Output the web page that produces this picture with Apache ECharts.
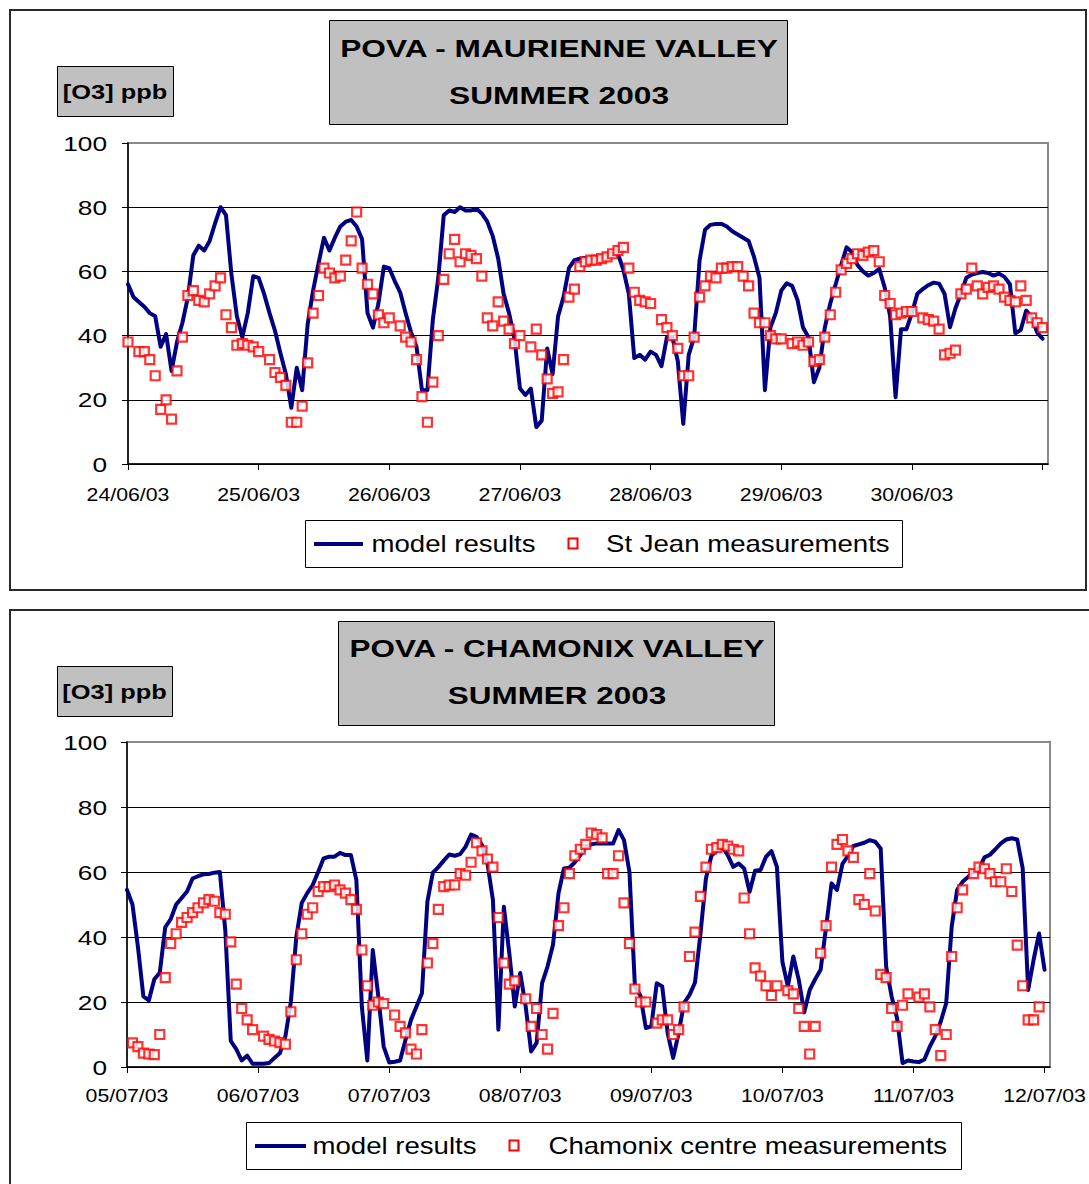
<!DOCTYPE html>
<html><head><meta charset="utf-8">
<script src="https://cdn.jsdelivr.net/npm/echarts@6/dist/echarts.min.js"></script>
<style>html,body{margin:0;padding:0;background:#fff}#c{width:1089px;height:1184px}</style>
</head><body><div id="c"></div>
<script>
// ---------- data (hourly, hour 0 = midnight of first day) ----------
const topDayLabels = ['24/06/03','25/06/03','26/06/03','27/06/03','28/06/03','29/06/03','30/06/03'];
const bottomDayLabels = ['05/07/03','06/07/03','07/07/03','08/07/03','09/07/03','10/07/03','11/07/03','12/07/03'];
const dayTickHours = [0,24,48,72,96,120,144,168];
const yTickValues = [0,20,40,60,80,100];

const maurienneModel = [
56,52,50.5,49,47,46,36.5,40.5,29,38,
44,52,65,68,66.5,69.5,75,80,77.5,59,
46,39.5,47,58.5,58,53,47,41.5,34.5,28,
17.5,30,23,43.5,54,62.5,70.5,66.5,70.5,74,
75.5,76,74,70,47,42.5,50,61.5,61,57,
53.5,47,41,36.5,23,23,45,58,77.5,79,
78.5,80,79,79,79.5,78,75.5,71,64,53,
47,39,23.5,21.5,23.5,11.5,13.5,36,28,46,
52,61,63.5,64,64.2,64.2,64.5,64.5,65,65.5,
65.5,60.5,53,33,34,32.5,35,34,30.5,39.5,
39.5,32,12.5,34,39.5,63.5,73,74.5,74.8,74.8,
74,72.5,71.5,70.5,69.5,64.5,58,23,42.5,47,
54,56.3,55.5,51,42.5,39.5,25.5,30,42.5,50,
56,62,67.5,66,62,60,58.7,59.5,60.8,55,
46,20.8,42,42,47,53,54.5,55.7,56.5,56.2,
53,42.6,48.5,53,58,59,59.5,59.8,59.5,58.7,
59.3,58.3,56,40.7,41.8,47.8,45.7,41,39];

const stJeanMeasured = [
38,null,35,35,32.5,27.5,17,20,14,29,
39.5,52.5,54,51,50.5,53,55.5,58,46.5,42.5,
37,37.5,37,36.5,35,null,32.5,28.5,27,24.5,
13,13,18,31.5,47,52.5,61,59.5,58,58.5,
63.5,69.5,78.5,61,56,53,46.5,44,45.5,null,
43,39.5,38,32.5,21,13,25.5,40,57.5,65.5,
70,63,65.5,65,64,58.5,45.5,43,50.5,44.5,
42,37.5,40,null,36.5,42,34,26.5,22,22.5,
32.5,52,54.5,61.5,63,63.5,63.5,64,64.5,65.5,
66.5,67.5,61,53.5,51,50.5,50,null,45,42.5,
40,36,27.5,27.5,39.5,52,55.5,58.5,58,61,
61,61.5,61.5,58.5,55.5,47,44,44,40,39,
39,null,37.5,38,37,38,32,32.5,39.5,46.5,
53.5,60.5,62.5,64,65.5,65,66,66.5,63,52.5,
50,46.5,47,47.5,47.5,null,45.5,45,44.5,42,
34,34.5,35.5,53,54.5,61,55.5,53,55,55.5,
54.5,52,51,50.5,55.5,51,45.5,44,42.5];

const chamonixModel = [
54.5,50,37,21.7,20.5,27,29,43,45.5,50,
52,54,58,58.7,59.3,59.4,59.8,60,42,8,
5.5,2,3.5,1,1,1,1.2,2.8,4.3,9.4,
20,40,50.5,53.5,56,60,64.2,64.7,64.7,65.9,
65.2,65.2,57.5,18.6,2,36,22,6.3,1.4,1.6,
2,8.4,14.5,18.6,22.7,50.9,59.8,61.5,63.5,65.4,
65,65.5,67.8,71.5,70.8,68.3,62.6,51.4,11.5,49.3,
35,18.6,28.9,18.6,4.8,7.4,25.8,30.9,37.6,53.4,
61.1,61.3,63,65.2,67.8,68.5,68.8,68.8,68.8,68.8,
72.9,69.8,60,24.8,22,12,12.5,25.8,24.8,10.4,
2.8,10.4,19.7,22.2,26,41,58,65,66.7,67.8,
65.2,61.6,62.6,61.1,53.9,60.4,60.6,64.7,66.4,61.6,
32.4,24.8,34,26.8,16.8,23.7,27,29.9,43,56.5,
54.5,62.5,65,68,68.5,69,69.8,69.3,67.2,30.9,
21.7,15,1.2,2,1.7,1.5,2.3,6.3,9.5,14,
19.7,43.2,54.5,57,58.5,60,61.1,64.5,65.3,67,
68.8,70,70.4,70,61.1,23.7,33,41.1,29.9];

const chamonixMeasured = [
null,7.4,6.3,4.3,4,3.8,10,27.5,38,41,
44.5,46,47.5,49,50.5,51.5,51,47.5,47,38.5,
25.5,18,14.5,11.5,null,9.5,8.5,8,7.5,7,
17,33,41,47,49,54,55.5,55.5,56,54.5,
53.5,51.5,48.5,36,25,19,20,19.5,null,16,
12.5,10.5,5.5,4,11.5,32,38,48.5,55.5,56,
56,59.5,59,63,69,66.5,64,61.5,46,32,
25.5,26.5,null,21,12.5,18,10,5.5,16.5,43.5,
49,59.5,65,67,68.5,72,71.5,70.5,59.5,59.5,
65,50.5,38,24,20,20,null,13.5,14.5,14.5,
10,11.5,18.5,34,41.5,52.5,61.5,67,67.5,68.5,
68,67,66.5,52,41,30.5,28,25,22,25,
null,23.5,22.5,18,12.5,4,12.5,35,43.5,61.5,
68.5,70,66.5,64.5,51.5,50,59.5,48,28.5,27.5,
18,12.5,19,22.5,null,21.5,22.5,18.5,11.5,3.5,
10,34,49,54.5,null,59.5,61.5,61,59.5,57,
57,61,54,37.5,25,14.5,14.5,18.5,null];

// ---------- chart ----------
const FONT = "'Liberation Sans', Arial, Helvetica, sans-serif";
const NAVY = '#000080', RED = '#ff0000';
const pairs = arr => arr.map((v, i) => v == null ? null : [i, v]).filter(p => p);

const chart = echarts.init(document.getElementById('c'), null, {renderer: 'svg'});

function xAxisFor(g) {
  return {gridIndex: g, type: 'value', min: 0, max: 169, interval: 24,
    axisLine: {show: true, onZero: false, lineStyle: {color: '#000', width: 1.5}},
    axisTick: {show: true, customValues: dayTickHours, length: 6, lineStyle: {color: '#000', width: 1}},
    axisLabel: {show: false}, splitLine: {show: false}};
}
function yAxisFor(g) {
  return {gridIndex: g, type: 'value', min: 0, max: 100, interval: 20,
    axisLine: {show: true, lineStyle: {color: '#000', width: 1.5}},
    axisTick: {show: true, length: 6, lineStyle: {color: '#000', width: 1}},
    axisLabel: {show: false},
    splitLine: {show: true, lineStyle: {color: ['#000','#000','#000','#000','#000','rgba(0,0,0,0)'], width: 1}}};
}
function modelSeries(g, data) {
  return {type: 'line', xAxisIndex: g, yAxisIndex: g, data: data.map((v, i) => [i, v]),
    symbol: 'none', showSymbol: false, silent: true, z: 2,
    lineStyle: {color: NAVY, width: 4, join: 'round', cap: 'round'}};
}
function measSeries(g, data) {
  return {type: 'scatter', xAxisIndex: g, yAxisIndex: g, data: pairs(data),
    symbol: 'rect', symbolSize: 9, silent: true, z: 3,
    itemStyle: {color: '#fff', borderColor: RED, borderWidth: 2.2}};
}

chart.setOption({
  animation: false,
  backgroundColor: '#fff',
  grid: [
    {left: 128, top: 143, width: 920, height: 321, show: true, borderColor: '#8a8a8a', borderWidth: 2, backgroundColor: 'rgba(0,0,0,0)'},
    {left: 127, top: 742, width: 923, height: 325, show: true, borderColor: '#8a8a8a', borderWidth: 2, backgroundColor: 'rgba(0,0,0,0)'}
  ],
  xAxis: [xAxisFor(0), xAxisFor(1)],
  yAxis: [yAxisFor(0), yAxisFor(1)],
  series: [
    modelSeries(0, maurienneModel), measSeries(0, stJeanMeasured),
    modelSeries(1, chamonixModel), measSeries(1, chamonixMeasured)
  ]
});

// ---------- decorations & text ----------
function txt(x, y, text, size, opts) {
  opts = opts || {};
  const align = opts.align || 'center';
  return {type: 'text', x: x, y: y, scaleX: opts.sx || 1, z: 20,
    style: {text: text, fill: '#000', font: (opts.bold ? 'bold ' : '') + size + 'px ' + FONT,
      align: align, textAlign: align, verticalAlign: 'middle', textVerticalAlign: 'middle'}};
}
function rect(x, y, w, h, fill, stroke, lw, z) {
  return {type: 'rect', shape: {x: x, y: y, width: w, height: h}, z: z || 1,
    style: {fill: fill, stroke: stroke, lineWidth: lw}};
}
const els = [];
// outer frames
els.push(rect(10, 10, 1076, 580, 'none', '#2a2a2a', 2, 0));
els.push(rect(10, 610, 1200, 700, 'none', '#2a2a2a', 2, 0));
// title boxes
els.push(rect(329.5, 20.5, 458, 104, '#c0c0c0', '#000', 1));
els.push(txt(559, 49, 'POVA - MAURIENNE VALLEY', 24, {bold: true, sx: 1.32}));
els.push(txt(559, 96, 'SUMMER 2003', 24, {bold: true, sx: 1.32}));
els.push(rect(338.5, 621.5, 436, 104, '#c0c0c0', '#000', 1));
els.push(txt(557, 649, 'POVA - CHAMONIX VALLEY', 24, {bold: true, sx: 1.31}));
els.push(txt(557, 696, 'SUMMER 2003', 24, {bold: true, sx: 1.31}));
// unit boxes
els.push(rect(57.5, 66.5, 116, 50, '#c0c0c0', '#000', 1));
els.push(txt(115, 92, '[O3] ppb', 20, {bold: true, sx: 1.27}));
els.push(rect(57.5, 666.5, 115, 50, '#c0c0c0', '#000', 1));
els.push(txt(114.5, 692, '[O3] ppb', 20, {bold: true, sx: 1.27}));
// legends
function legend(bx, by, bw, lx1, lx2, sqx, t1x, t2x, label2) {
  const cy = by + 24;
  els.push(rect(bx + 0.5, by + 0.5, bw, 47, '#fff', '#000', 1));
  els.push({type: 'line', z: 5, shape: {x1: lx1, y1: cy, x2: lx2, y2: cy}, style: {stroke: NAVY, lineWidth: 4}});
  els.push(rect(sqx - 4.5, cy - 5.5, 9, 10, '#fff', RED, 2, 5));
  els.push(txt(t1x, cy, 'model results', 23, {align: 'left', sx: 1.2}));
  els.push(txt(t2x, cy, label2, 23, {align: 'left', sx: 1.2}));
}
legend(305, 520, 597, 314, 363, 573, 371.5, 606, 'St Jean measurements');
legend(246, 1122, 715, 255, 306, 514, 312.5, 548.5, 'Chamonix centre measurements');

// axis labels, positioned through the axes' own scales
[[0, topDayLabels, 495], [1, bottomDayLabels, 1096]].forEach(([g, labels, ly]) => {
  yTickValues.forEach(v => {
    const py = chart.convertToPixel({yAxisIndex: g}, v);
    els.push(txt(107, py, String(v), 21, {align: 'right', sx: 1.25}));
  });
  labels.forEach((lab, i) => {
    const px = chart.convertToPixel({xAxisIndex: g}, dayTickHours[i]);
    els.push(txt(px, ly, lab, 18.5, {sx: 1.15}));
  });
});

chart.setOption({graphic: {elements: els}});
</script>
</body></html>
